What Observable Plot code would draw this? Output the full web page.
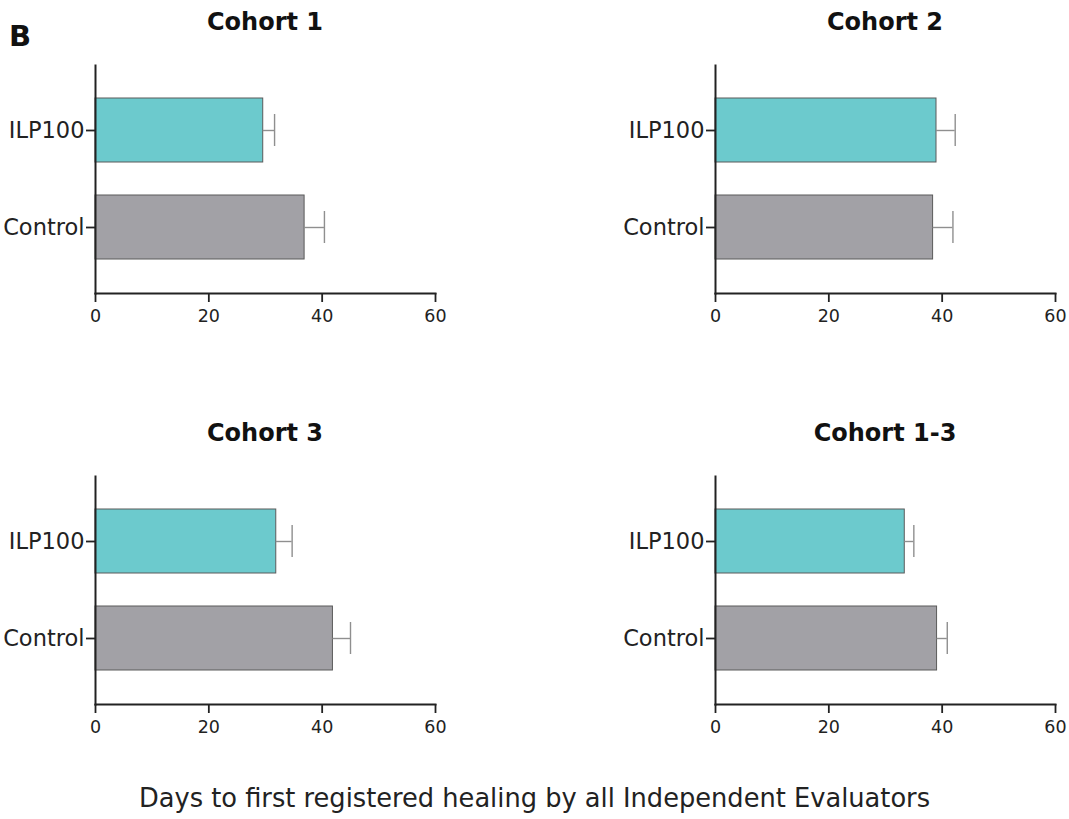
<!DOCTYPE html>
<html>
<head>
<meta charset="utf-8">
<script src="https://cdn.jsdelivr.net/npm/d3@7"></script>
<script src="https://cdn.jsdelivr.net/npm/@observablehq/plot@0.6"></script>
<style>
  html, body { margin: 0; padding: 0; background: #fff; }
  body { width: 1069px; height: 819px; position: relative; overflow: hidden; font-family: "DejaVu Sans", Verdana, sans-serif; color: #222; }
  .abs { position: absolute; }
  .title { font-weight: bold; font-size: 24px; text-align: center; width: 340px; line-height: 1; color: #111; }
  .letter { font-weight: bold; font-size: 29px; left: 9px; top: 22px; line-height: 1; color: #111; }
  .caption { font-size: 25.7px; left: 0; width: 1069px; text-align: center; top: 786px; line-height: 1; color: #222; }
</style>
</head>
<body>
<script>
const cohorts = ["Cohort 1", "Cohort 2", "Cohort 3", "Cohort 1-3"];
const groups = ["ILP100", "Control"];
const ilpMean = [29.6, 39.0, 31.9, 33.4];
const ilpErr = [2.0, 3.3, 2.8, 1.6];
const ctrlMean = [36.9, 38.4, 41.9, 39.1];
const ctrlErr = [3.5, 3.5, 3.1, 1.8];
const xTicks = [0, 20, 40, 60];
const caption = "Days to first registered healing by all Independent Evaluators";

const colors = {ILP100: "#6ccacd", Control: "#a2a1a6"};
const positions = [[0, 0], [620, 0], [0, 411], [620, 411]];

const body = document.body;

const letter = document.createElement("div");
letter.className = "abs letter";
letter.textContent = "B";
body.appendChild(letter);

cohorts.forEach((name, i) => {
  const [ox, oy] = positions[i];
  const rows = [
    {group: "ILP100", mean: ilpMean[i], err: ilpErr[i]},
    {group: "Control", mean: ctrlMean[i], err: ctrlErr[i]}
  ];
  const chart = Plot.plot({
    width: 460,
    height: 270,
    marginLeft: 95,
    marginRight: 25,
    marginTop: 10,
    marginBottom: 32,
    style: {fontFamily: "DejaVu Sans, Verdana, sans-serif", background: "transparent", overflow: "visible"},
    x: {domain: [0, 60], ticks: xTicks},
    y: {domain: groups, padding: 0.34},
    marks: [
      Plot.barX(rows, {y: "group", x: "mean", fill: d => colors[d.group], stroke: "#5a5a5a", strokeWidth: 1}),
      Plot.ruleY(rows, {y: "group", x1: "mean", x2: d => d.mean + d.err, stroke: "#8f8f8f", strokeWidth: 1.4}),
      Plot.tickX(rows, {y: "group", x: d => d.mean + d.err, stroke: "#8f8f8f", strokeWidth: 1.4, insetTop: 16, insetBottom: 16}),
      Plot.axisX({ticks: xTicks, tickSize: 9, tickPadding: 7, fontSize: 17.5, stroke: "#222", strokeWidth: 1.8, color: "#222", label: null, tickFormat: d => String(d)}),
      Plot.axisY({tickSize: 9, tickPadding: 2, fontSize: 22.5, stroke: "#222", strokeWidth: 1.8, color: "#222", label: null}),
      Plot.frame({anchor: "left", stroke: "#222", strokeWidth: 2}),
      Plot.frame({anchor: "bottom", stroke: "#222", strokeWidth: 2})
    ]
  });
  chart.classList.add("abs");
  chart.style.left = ox + "px";
  chart.style.top = (55 + oy) + "px";
  body.appendChild(chart);

  const t = document.createElement("div");
  t.className = "abs title";
  t.textContent = name;
  t.style.left = (ox + 95) + "px";
  t.style.top = (10 + oy) + "px";
  body.appendChild(t);
});

const cap = document.createElement("div");
cap.className = "abs caption";
cap.textContent = caption;
body.appendChild(cap);
</script>
</body>
</html>
